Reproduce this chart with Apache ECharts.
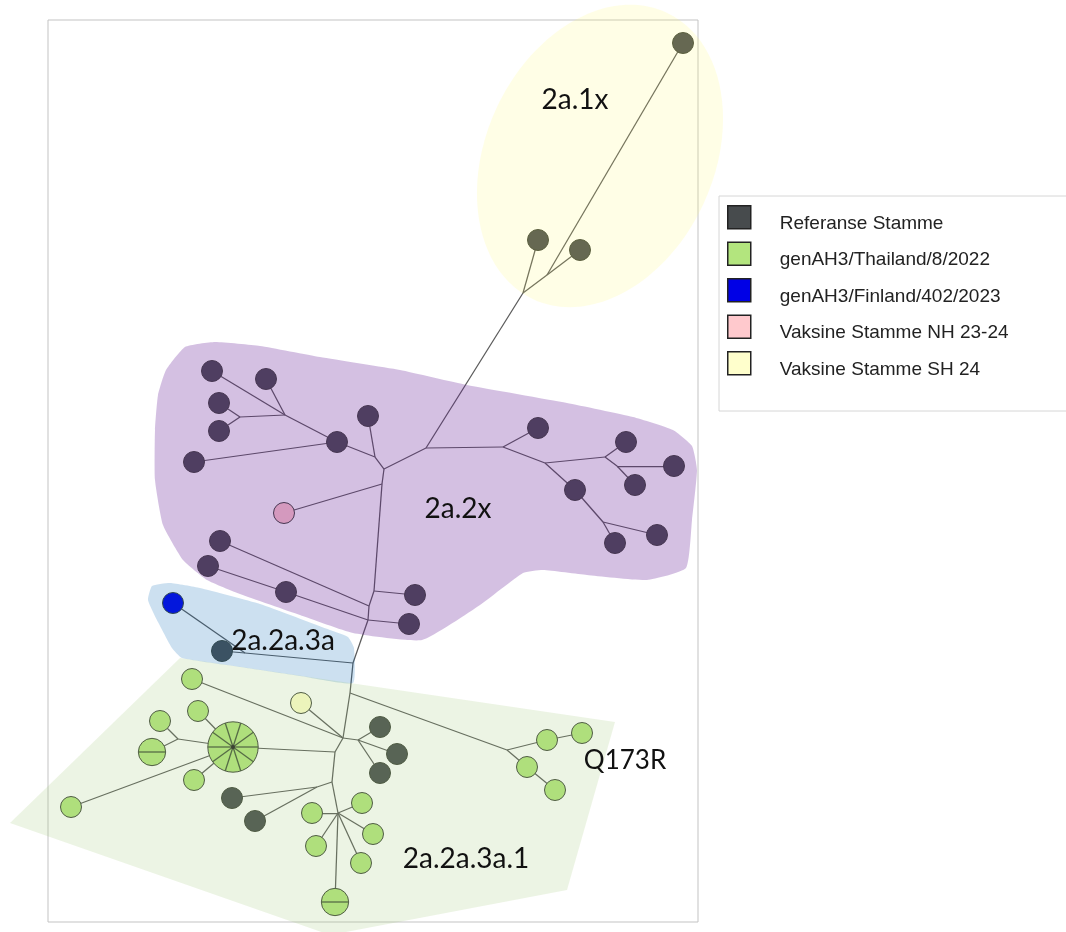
<!DOCTYPE html>
<html>
<head>
<meta charset="utf-8">
<script src="https://cdn.jsdelivr.net/npm/echarts@6/dist/echarts.min.js"></script>
<style>
  html, body { margin: 0; padding: 0; background: #fff; }
  #chart { width: 1066px; height: 932px; }
</style>
</head>
<body>
<div id="chart"></div>
<script>
// Strain groups shown in the legend
const groupNames = [
  'Referanse Stamme',
  'genAH3/Thailand/8/2022',
  'genAH3/Finland/402/2023',
  'Vaksine Stamme NH 23-24',
  'Vaksine Stamme SH 24'
];
const groupColors = ['#474b4d', '#b3e57e', '#0000e6', '#ffc9cd', '#ffffcc'];

// Sampled sequences: id, x, y, identical sequences, group index
const sequenceNodes = [
  ['A1', 683, 43, 1, 0], ['A2', 538, 240, 1, 0], ['A3', 580, 250, 1, 0],
  ['P1', 337, 442, 1, 0], ['P2', 368, 416, 1, 0], ['P3', 194, 462, 1, 0],
  ['P4', 266, 379, 1, 0], ['P5', 212, 371, 1, 0], ['P6', 219, 403, 1, 0],
  ['P7', 219, 431, 1, 0], ['P8', 415, 595, 1, 0], ['P9', 220, 541, 1, 0],
  ['P10', 409, 624, 1, 0], ['P11', 286, 592, 1, 0], ['P12', 208, 566, 1, 0],
  ['P13', 538, 428, 1, 0], ['P14', 575, 490, 1, 0], ['P15', 626, 442, 1, 0],
  ['P16', 674, 466, 1, 0], ['P17', 635, 485, 1, 0], ['P18', 615, 543, 1, 0],
  ['P19', 657, 535, 1, 0], ['B1', 222, 651, 1, 0],
  ['G1', 380, 727, 1, 0], ['G2', 397, 754, 1, 0], ['G3', 380, 773, 1, 0],
  ['G4', 232, 798, 1, 0], ['G5', 255, 821, 1, 0],
  ['PIE', 233, 747, 10, 1], ['T1', 192, 679, 1, 1], ['T2', 198, 711, 1, 1],
  ['T3', 194, 780, 1, 1], ['T4', 71, 807, 1, 1], ['T5', 160, 721, 1, 1],
  ['T6', 152, 752, 2, 1], ['T7', 312, 813, 1, 1], ['T8', 362, 803, 1, 1],
  ['T9', 373, 834, 1, 1], ['T10', 316, 846, 1, 1], ['T11', 361, 863, 1, 1],
  ['T12', 335, 902, 2, 1], ['Q1', 547, 740, 1, 1], ['Q2', 582, 733, 1, 1],
  ['Q3', 527, 767, 1, 1], ['Q4', 555, 790, 1, 1],
  ['FIN', 173, 603, 1, 2],
  ['NH', 284, 513, 1, 3],
  ['SH', 301, 703, 1, 4]
];

// Median vectors (inferred branch points): id, x, y
const medianNodes = [
  ['j1', 547, 275], ['j2', 523, 293], ['j3', 426, 448], ['j4', 384, 469],
  ['j5', 375, 457], ['j6', 382, 484], ['j7', 374, 591], ['j8', 369, 606],
  ['j9', 368, 620], ['j10', 353, 663], ['ja', 285, 415], ['jb', 240, 417],
  ['j11', 503, 447], ['j12', 545, 463], ['j13', 605, 457], ['j14', 617, 466],
  ['j15', 603, 522], ['jc', 245, 653], ['j16', 350, 693], ['j17', 343, 738],
  ['j18', 358, 740], ['j19', 335, 752], ['j20', 332, 782], ['j21', 317, 787],
  ['j22', 338, 813], ['j23', 507, 750], ['jL', 178, 739]
];

// Network links
const links = [
  ['A1', 'j1'], ['A3', 'j1'], ['j1', 'j2'], ['A2', 'j2'], ['j2', 'j3'],
  ['j3', 'j11'], ['j3', 'j4'], ['j4', 'j5'], ['j4', 'j6'],
  ['j5', 'P1'], ['j5', 'P2'], ['P1', 'ja'], ['P1', 'P3'],
  ['ja', 'P4'], ['ja', 'P5'], ['ja', 'jb'], ['jb', 'P6'], ['jb', 'P7'],
  ['j6', 'NH'], ['j6', 'j7'], ['j7', 'P8'], ['j7', 'j8'],
  ['j8', 'P9'], ['j8', 'j9'], ['j9', 'P10'], ['j9', 'P11'], ['P11', 'P12'],
  ['j9', 'j10'],
  ['j11', 'P13'], ['j11', 'j12'], ['j12', 'j13'], ['j12', 'P14'],
  ['j13', 'P15'], ['j13', 'j14'], ['j14', 'P16'], ['j14', 'P17'],
  ['P14', 'j15'], ['j15', 'P18'], ['j15', 'P19'],
  ['j10', 'jc'], ['jc', 'B1'], ['jc', 'FIN'], ['j10', 'j16'],
  ['j16', 'j23'], ['j16', 'j17'],
  ['j23', 'Q1'], ['Q1', 'Q2'], ['j23', 'Q3'], ['Q3', 'Q4'],
  ['j17', 'SH'], ['j17', 'T1'], ['j17', 'j18'], ['j17', 'j19'],
  ['j18', 'G1'], ['j18', 'G2'], ['j18', 'G3'],
  ['j19', 'PIE'], ['j19', 'j20'],
  ['PIE', 'T2'], ['PIE', 'jL'], ['PIE', 'T3'], ['PIE', 'T4'],
  ['jL', 'T5'], ['jL', 'T6'],
  ['j20', 'j21'], ['j21', 'G4'], ['j21', 'G5'], ['j20', 'j22'],
  ['j22', 'T7'], ['j22', 'T8'], ['j22', 'T9'], ['j22', 'T10'], ['j22', 'T11'], ['j22', 'T12']
];

// Clade labels and the mutation label
const cladeNames = ['2a.1x', '2a.2x', '2a.2a.3a', '2a.2a.3a.1'];
const cladeLabelX = [575, 458, 283, 466];
const cladeLabelY = [100, 509, 641, 859];
const mutationNames = ['Q173R'];
const mutationLabelX = [625];
const mutationLabelY = [761];

// Clade outlines
const clade21xEllipse = { center: [600, 156], radii: [114, 158], tiltDeg: 25 };
const clade22xOutline = [
  [185, 347], [215, 342], [260, 346], [320, 357], [400, 370], [467, 385],
  [567, 403], [633, 417], [673, 430], [692, 446], [697, 470], [692, 520],
  [686, 568], [647, 580], [587, 575], [543, 570], [523, 573], [480, 605],
  [422, 640], [353, 633], [300, 615], [240, 594], [207, 580], [183, 560],
  [163, 525], [155, 480], [155, 430], [158, 395], [166, 370]
];
const clade3aOutline = [
  [152, 586], [170, 583], [200, 588], [260, 604], [330, 630], [348, 637],
  [354, 648], [353, 683], [300, 676], [240, 667], [182, 658], [172, 648],
  [158, 622], [148, 600]
];
const clade3a1Outline = [[180, 658], [615, 722], [567, 890], [330, 935], [10, 823]];

// ---------------------------------------------------------------------------
const position = {};
sequenceNodes.forEach(n => { position[n[0]] = [n[1], n[2]]; });
medianNodes.forEach(n => { position[n[0]] = [n[1], n[2]]; });

const nodeRadius = count => 10.5 * Math.pow(count, 0.38);

function renderSequence(params, api) {
  const c = api.coord([api.value(0), api.value(1)]);
  const count = api.value(2);
  const r = nodeRadius(count);
  const children = [{
    type: 'circle',
    shape: { cx: c[0], cy: c[1], r: r },
    style: { fill: api.visual('color'), stroke: '#3c4238', lineWidth: 1 }
  }];
  if (count > 1) {
    for (let k = 0; k < count; k++) {
      const a = 2 * Math.PI * k / count;
      children.push({
        type: 'line',
        shape: { x1: c[0], y1: c[1], x2: c[0] + r * Math.cos(a), y2: c[1] + r * Math.sin(a) },
        style: { stroke: '#44553a', lineWidth: 1.3 }
      });
    }
  }
  if (count > 2) {
    children.push({ type: 'circle', shape: { cx: c[0], cy: c[1], r: 2 }, style: { fill: '#222' } });
  }
  return { type: 'group', children: children };
}

const sequenceSeries = groupNames.map((name, g) => ({
  name: name,
  type: 'custom',
  coordinateSystem: 'cartesian2d',
  z: 3,
  silent: true,
  itemStyle: { color: groupColors[g] },
  renderItem: renderSequence,
  data: sequenceNodes.filter(n => n[4] === g).map(n => [n[1], n[2], n[3]])
}));

const linkSeries = {
  type: 'lines',
  coordinateSystem: 'cartesian2d',
  z: 2,
  silent: true,
  lineStyle: { color: '#5a5a5a', width: 1.25, opacity: 1 },
  data: links.map(l => ({ coords: [position[l[0]], position[l[1]]] }))
};

function outlineSeries(points, fill, smooth) {
  return {
    type: 'custom',
    coordinateSystem: 'cartesian2d',
    z: 4,
    silent: true,
    data: [points[0]],
    renderItem: (params, api) => ({
      type: 'polygon',
      shape: { points: points.map(p => api.coord(p)), smooth: smooth },
      style: { fill: fill }
    })
  };
}

const ellipseSeries = {
  type: 'custom',
  coordinateSystem: 'cartesian2d',
  z: 4,
  silent: true,
  data: [clade21xEllipse.center],
  renderItem: (params, api) => {
    const c = api.coord(clade21xEllipse.center);
    const s = api.size(clade21xEllipse.radii);
    return {
      type: 'ellipse',
      x: c[0], y: c[1],
      rotation: -clade21xEllipse.tiltDeg * Math.PI / 180,
      shape: { cx: 0, cy: 0, rx: s[0], ry: s[1] },
      style: { fill: 'rgba(255,250,108,0.17)' }
    };
  }
};

function labelSeries(names, xs, ys, size) {
  return {
    type: 'custom',
    coordinateSystem: 'cartesian2d',
    z: 5,
    silent: true,
    data: names.map((n, i) => [xs[i], ys[i], i]),
    renderItem: (params, api) => {
      const c = api.coord([api.value(0), api.value(1)]);
      return {
        type: 'text',
        x: c[0], y: c[1],
        style: {
          text: names[api.value(2)],
          font: size + 'px Lato',
          fill: '#111',
          align: 'center',
          verticalAlign: 'middle'
        }
      };
    }
  };
}

const chart = echarts.init(document.getElementById('chart'));
chart.setOption({
  animation: false,
  backgroundColor: '#fff',
  grid: {
    left: 48, top: 20, width: 650, height: 902,
    show: true, borderColor: '#c3c3c3', borderWidth: 1, backgroundColor: 'transparent'
  },
  xAxis: { type: 'value', min: 48, max: 698, show: false },
  yAxis: { type: 'value', min: 20, max: 922, inverse: true, show: false },
  legend: {
    data: groupNames,
    orient: 'vertical',
    left: 719, top: 196,
    padding: [9, 200, 23, 8],
    itemWidth: 23, itemHeight: 35.5, itemGap: -0.5,
    // square swatch sitting at the top of a taller legend row
    icon: 'path://M0,0H23V23H0Z M0,35.5',
    selectedMode: false,
    backgroundColor: '#fff',
    borderColor: '#d6d6d6', borderWidth: 1,
    itemStyle: { borderColor: '#222', borderWidth: 1.5 },
    textStyle: {
      fontFamily: 'Liberation Sans', fontSize: 19, color: '#222',
      padding: [0, 0, 0, 24]
    }
  },
  series: [
    linkSeries,
    ...sequenceSeries,
    ellipseSeries,
    outlineSeries(clade22xOutline, 'rgba(101,30,151,0.28)', 0.15),
    outlineSeries(clade3aOutline, 'rgba(14,110,186,0.21)', 0.15),
    outlineSeries(clade3a1Outline, 'rgba(160,200,120,0.2)', 0),
    labelSeries(cladeNames, cladeLabelX, cladeLabelY, 28),
    labelSeries(mutationNames, mutationLabelX, mutationLabelY, 26)
  ]
});
</script>
</body>
</html>
